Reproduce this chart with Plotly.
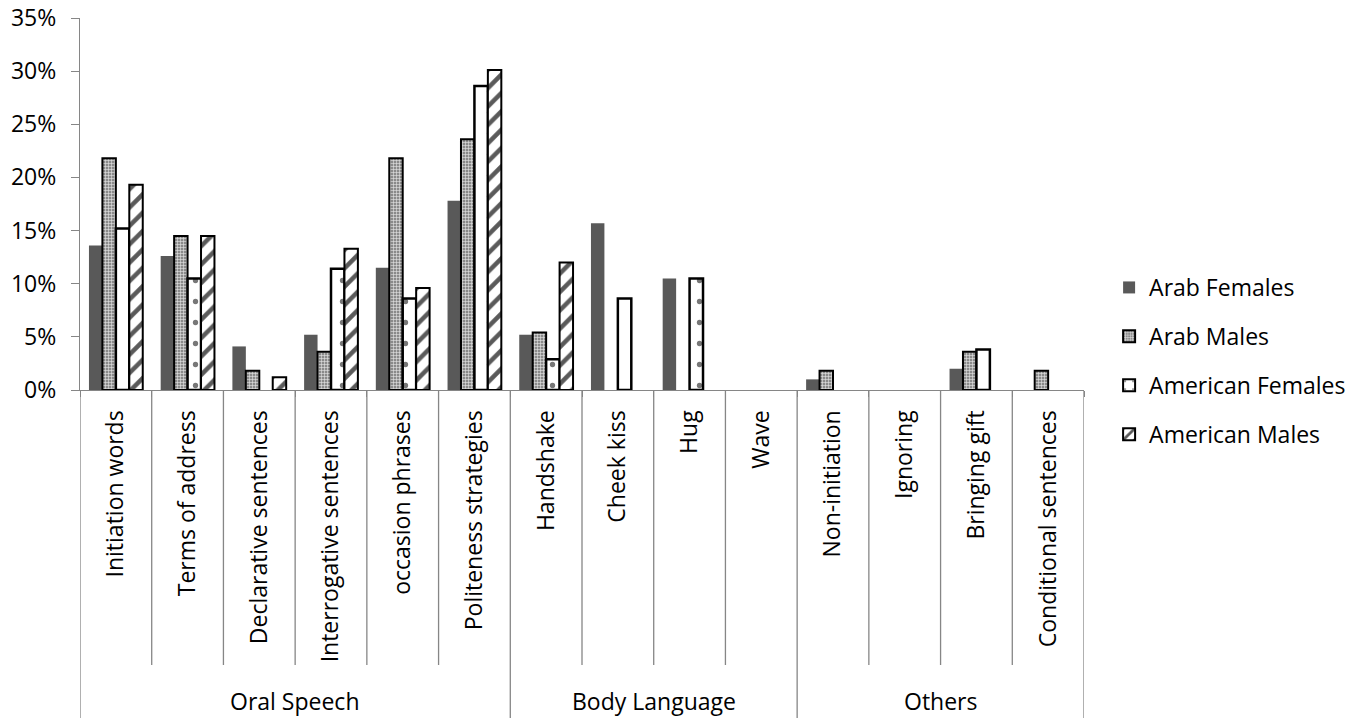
import plotly.graph_objects as go

# Greeting behaviours, grouped by type
groups = ["Oral Speech", "Body Language", "Others"]
group_sizes = [6, 4, 4]
categories = [
    "Initiation words", "Terms of address", "Declarative sentences",
    "Interrogative sentences", "occasion phrases", "Politeness strategies",
    "Handshake", "Cheek kiss", "Hug", "Wave",
    "Non-initiation", "Ignoring", "Bringing gift", "Conditional sentences",
]

# Percent of responses per group of participants
arab_females = [13.6, 12.6, 4.1, 5.2, 11.5, 17.8, 5.2, 15.7, 10.5, 0, 1.0, 0, 2.0, 0]
arab_males = [21.8, 14.5, 1.8, 3.6, 21.8, 23.6, 5.4, 0, 0, 0, 1.8, 0, 3.6, 1.8]
american_females = [15.2, 10.5, 0, 11.4, 8.6, 28.6, 2.9, 8.6, 10.5, 0, 0, 0, 3.8, 0]
american_males = [19.3, 14.5, 1.2, 13.3, 9.6, 30.1, 12.0, 0, 0, 0, 0, 0, 0, 0]

y_ticks = [0, 5, 10, 15, 20, 25, 30, 35]
y_tick_labels = ["0%", "5%", "10%", "15%", "20%", "25%", "30%", "35%"]

FONT = "Open Sans"
FS = 23
AXIS_GREY = "#868686"


def outline(values, width):
    # no outline on empty bars, so zero values leave no stroke on the axis
    return [width if v > 0 else 0 for v in values]


fig = go.Figure()

fig.add_trace(go.Bar(
    name="Arab Females", x=categories, y=arab_females,
    legendgroup="af",
    marker=dict(color="#595959", line=dict(width=0)),
))
fig.add_trace(go.Bar(
    name="Arab Males", x=categories, y=arab_males,
    legendgroup="am",
    marker=dict(
        color="#9c9c9c",
        line=dict(color="black", width=outline(arab_males, 2)),
        pattern=dict(shape="+", fgcolor="#e6e6e6", bgcolor="#8a8a8a",
                     size=3, solidity=0.35, fillmode="replace"),
    ),
))
fig.add_trace(go.Bar(
    name="American Females", x=categories, y=american_females,
    legendgroup="amf",
    marker=dict(
        color="white",
        line=dict(color="black", width=outline(american_females, 2.5)),
        pattern=dict(shape=".", fgcolor="#777777", bgcolor="white",
                     size=21, solidity=0.05, fillmode="replace"),
    ),
))
fig.add_trace(go.Bar(
    name="American Males", x=categories, y=american_males,
    legendgroup="amm",
    marker=dict(
        color="white",
        line=dict(color="black", width=outline(american_males, 2)),
        pattern=dict(shape="/", fgcolor="#5a5a5a", bgcolor="white",
                     size=13, solidity=0.35, fillmode="replace"),
    ),
))

# Divider lines under the category axis
shapes = []
n = len(categories)
group_edges = [-0.5]
for s in group_sizes:
    group_edges.append(group_edges[-1] + s)
for i in range(n + 1):
    pos = i - 0.5
    is_group_edge = any(abs(pos - e) < 1e-9 for e in group_edges)
    shapes.append(dict(
        type="line", xref="x", yref="paper",
        x0=pos, x1=pos, y0=0, y1=-0.882 if is_group_edge else -0.739,
        line=dict(color=AXIS_GREY, width=1.3),
    ))

annotations = []
for g, a, b in zip(groups, group_edges[:-1], group_edges[1:]):
    annotations.append(dict(
        text=g, x=(a + b) / 2, xref="x", y=-0.836, yref="paper",
        showarrow=False, xanchor="center", yanchor="middle",
        font=dict(family=FONT, size=FS, color="black"),
    ))

fig.update_layout(
    width=1364, height=719,
    margin=dict(l=80, r=280, t=18, b=329, autoexpand=False),
    paper_bgcolor="white", plot_bgcolor="white",
    barmode="group", bargap=0.25, bargroupgap=0,
    font=dict(family=FONT, size=FS, color="black"),
    shapes=shapes, annotations=annotations,
    legend=dict(
        x=1.025, xanchor="left", y=0.078, yanchor="middle",
        traceorder="grouped", tracegroupgap=16,
        font=dict(family=FONT, size=FS, color="black"),
        itemsizing="constant",
    ),
    xaxis=dict(
        type="category", categoryorder="array", categoryarray=categories,
        range=[-0.5, n - 0.5], automargin=False,
        tickangle=-90, ticks="outside", tickson="boundaries", ticklen=6,
        tickcolor=AXIS_GREY, ticklabelstandoff=10,
        showline=True, linecolor=AXIS_GREY, linewidth=1.3,
        showgrid=False, zeroline=False,
        tickfont=dict(family=FONT, size=FS, color="black"),
    ),
    yaxis=dict(
        range=[0, 35], tickvals=y_ticks, ticktext=y_tick_labels,
        automargin=False,
        ticks="outside", ticklen=8, tickcolor=AXIS_GREY,
        ticklabelstandoff=10,
        showline=True, linecolor=AXIS_GREY, linewidth=1.3,
        showgrid=False, zeroline=False,
        tickfont=dict(family=FONT, size=FS, color="black"),
    ),
)

fig.write_html("out.html")
